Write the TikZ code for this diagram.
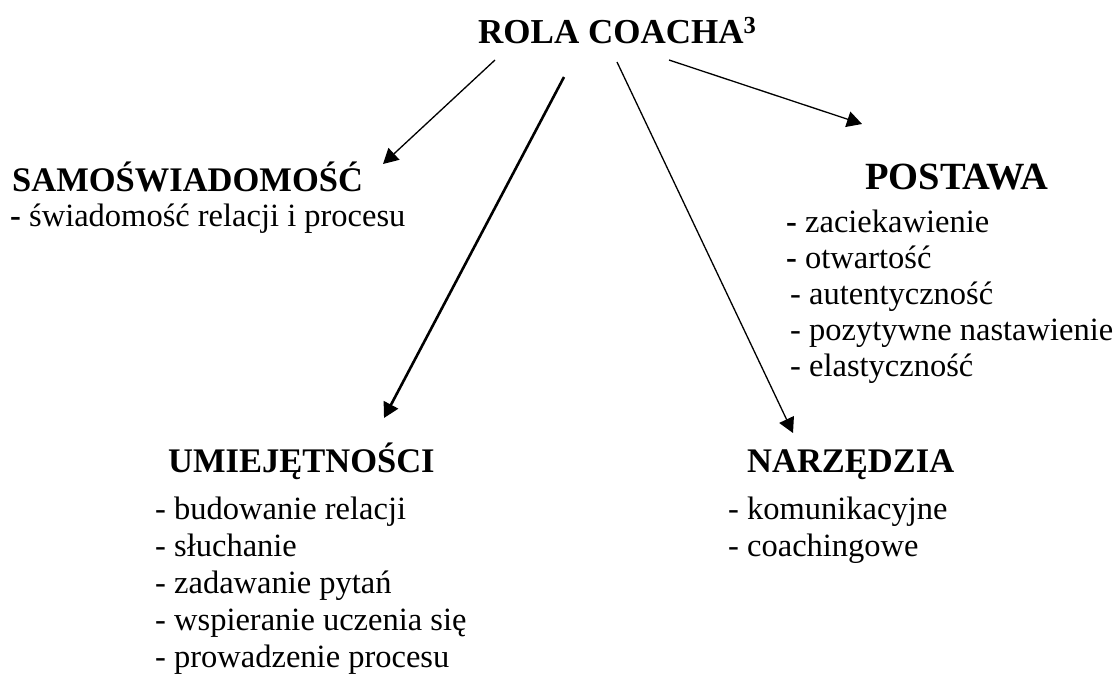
\documentclass[tikz,border=0pt]{standalone}
\usepackage{fontspec}
\setmainfont{Liberation Serif}
\usetikzlibrary{arrows.meta}
\begin{document}
\begin{tikzpicture}[x=1pt,y=-1pt,
  title/.style={anchor=base west,inner sep=0pt,font=\fontsize{34.5}{40}\selectfont\bfseries},
  item/.style={anchor=base west,inner sep=0pt,font=\fontsize{32.5}{36}\selectfont},
  arr/.style={-{Triangle[length=15pt,width=16pt]},line width=1.3pt},
  thickarr/.style={-{Triangle[length=15pt,width=16pt]},line width=2.6pt}]
\useasboundingbox (0,0) rectangle (1114,689);
% titles
\node[title,font=\fontsize{35}{40}\selectfont\bfseries] (rola) at (478,43) {ROLA COACHA\textsuperscript{3}};
\node[title] (samo) at (12,191) {SAMOŚWIADOMOŚĆ};
\node[title,font=\fontsize{38.5}{42}\selectfont\bfseries] (post) at (865,189) {POSTAWA};
\node[title] (umie) at (168,472) {UMIEJĘTNOŚCI};
\node[title] (narz) at (747,472) {NARZĘDZIA};
% items
\node[item] (s1) at (10,226) {\textbf{-} świadomość relacji i procesu};
\node[item] (p1) at (786,232) {\textbf{-} zaciekawienie};
\node[item] (p2) at (786,268) {\textbf{-} otwartość};
\node[item] (p3) at (790,304) {- autentyczność};
\node[item] (p4) at (790,340) {- pozytywne nastawienie};
\node[item] (p5) at (790,376) {- elastyczność};
\node[item] (u1) at (155,519) {- budowanie relacji};
\node[item] (u2) at (155,556) {- słuchanie};
\node[item] (u3) at (155,593) {- zadawanie pytań};
\node[item] (u4) at (155,630) {- wspieranie uczenia się};
\node[item] (u5) at (155,667) {- prowadzenie procesu};
\node[item] (n1) at (728,519) {- komunikacyjne};
\node[item] (n2) at (728,556) {- coachingowe};
% arrow ends
\coordinate (a1s) at (495,60);  \coordinate (a1e) at (383,164);
\coordinate (a2s) at (564,77);  \coordinate (a2e) at (384,418);
\coordinate (a3s) at (617,62);  \coordinate (a3e) at (793,433);
\coordinate (a4s) at (669,60);  \coordinate (a4e) at (862,124);
\draw[arr] (a1s) -- (a1e);
\draw[thickarr] (a2s) -- (a2e);
\draw[arr] (a3s) -- (a3e);
\draw[arr] (a4s) -- (a4e);
\end{tikzpicture}
\end{document}
